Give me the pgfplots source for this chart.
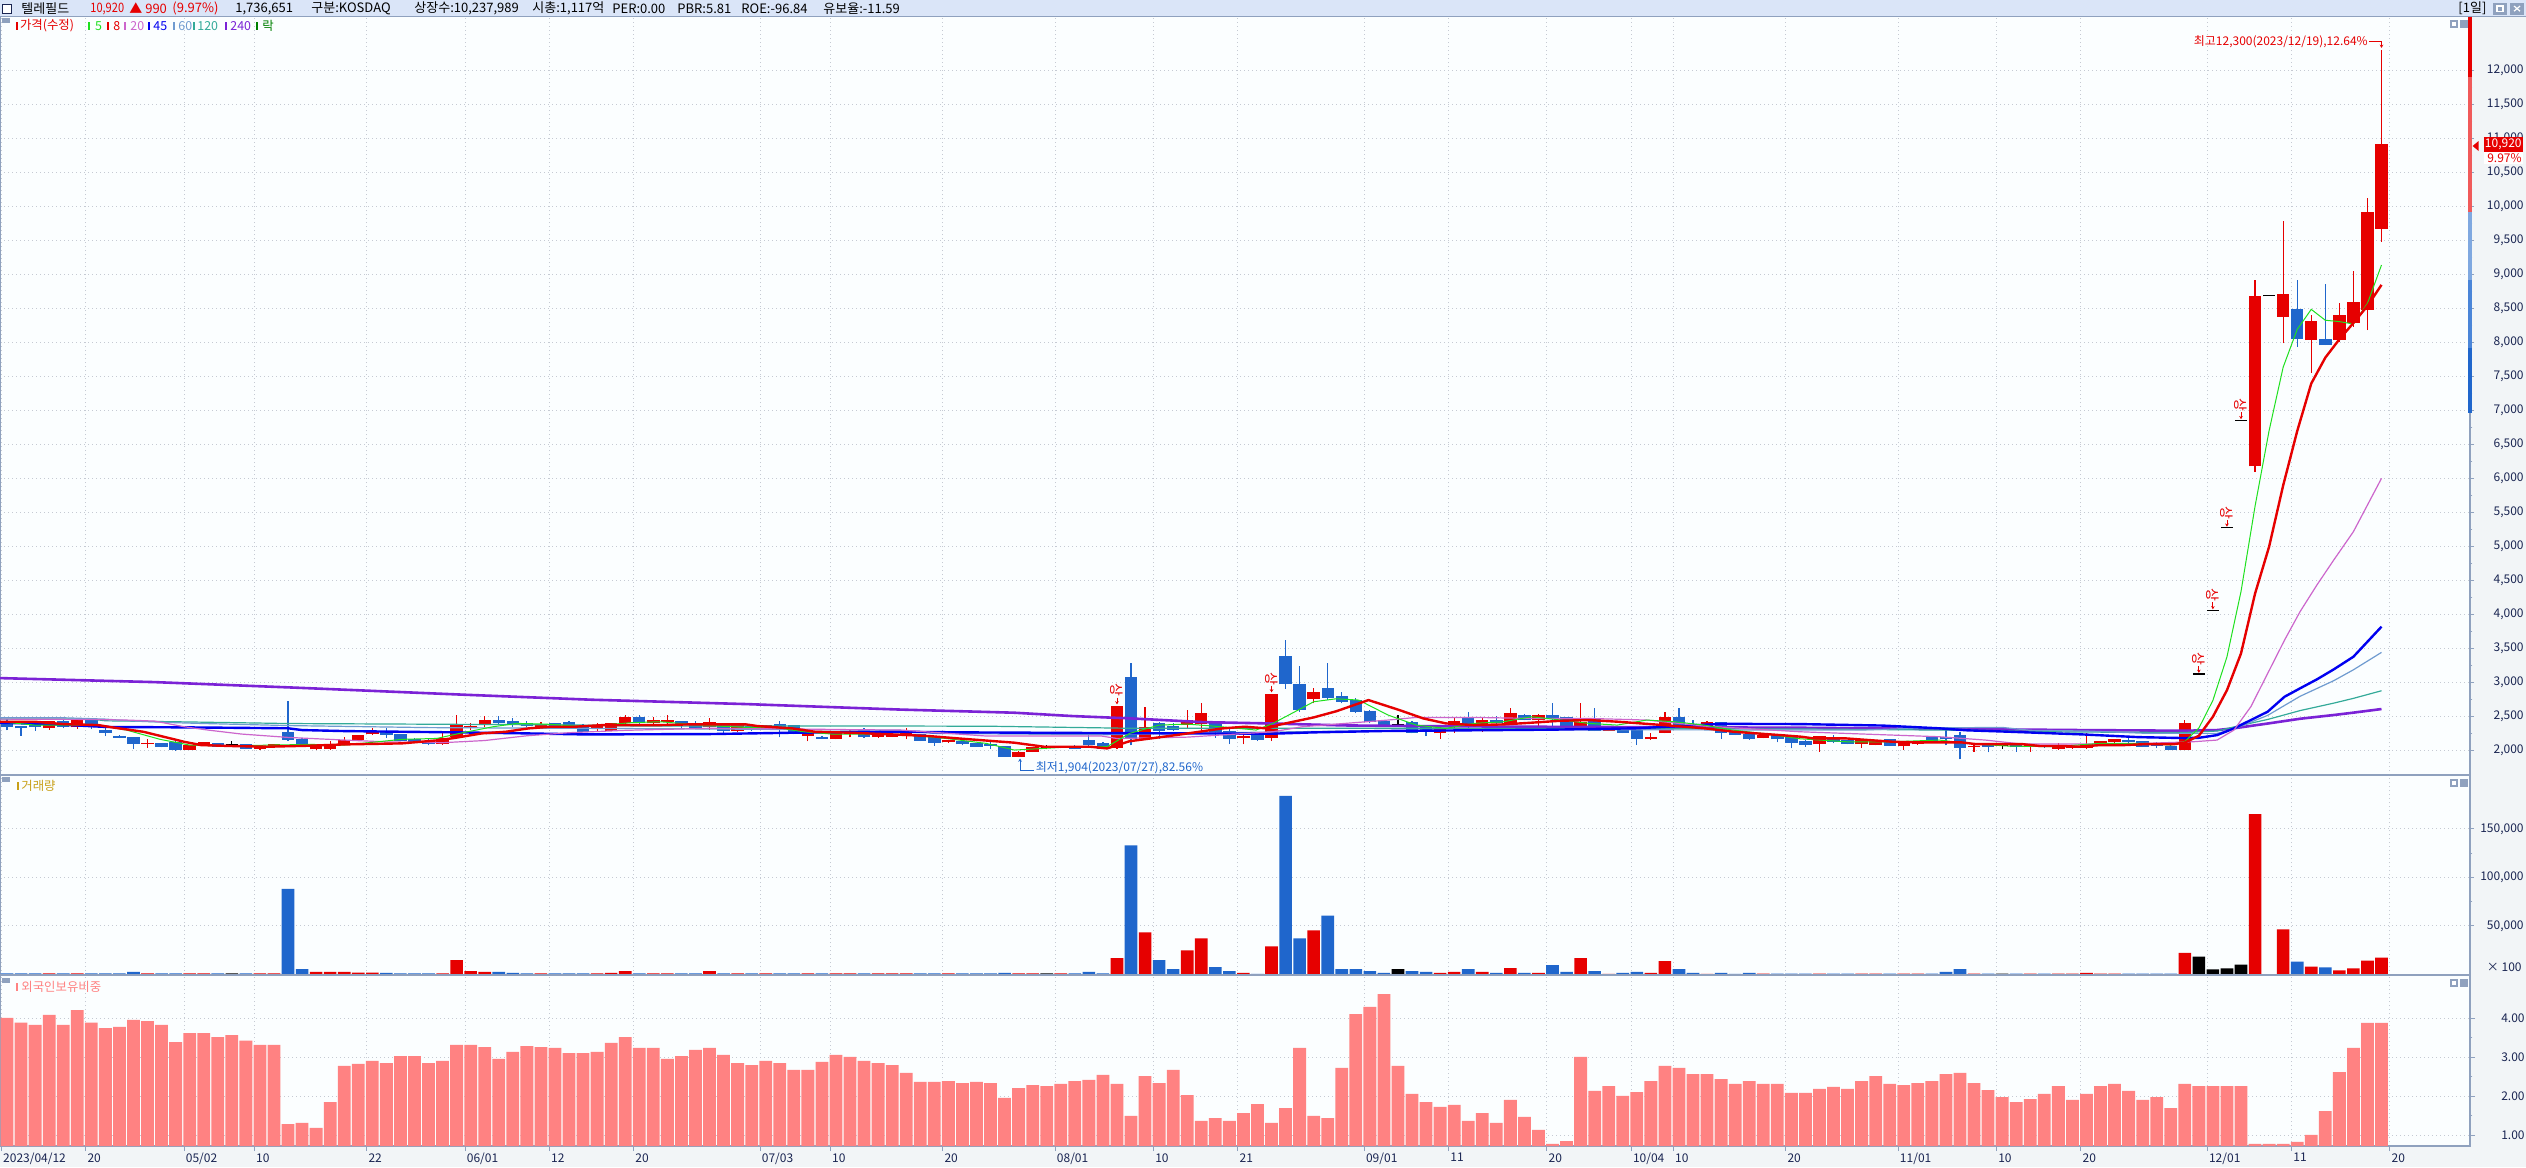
\documentclass[border=0pt]{standalone}
\usepackage{fontspec}
\setmainfont{Noto Sans CJK KR}
\usepackage{pgfplots}
\usepackage{pgfplotstable}
\pgfplotsset{compat=1.18}
\usetikzlibrary{arrows.meta}

\definecolor{upred}{HTML}{E60000}
\definecolor{dnblue}{HTML}{1F66CC}
\definecolor{ma5}{HTML}{1EE01E}
\definecolor{ma8}{HTML}{E60000}
\definecolor{ma20}{HTML}{CC66CC}
\definecolor{ma45}{HTML}{0000F0}
\definecolor{ma60}{HTML}{6F9BD0}
\definecolor{ma120}{HTML}{33AA99}
\definecolor{ma240}{HTML}{7B22D6}
\definecolor{fbar}{HTML}{FF8282}
\definecolor{gridc}{HTML}{C5CAD3}
\definecolor{sepc}{HTML}{8FA1BE}
\definecolor{hdrbg}{HTML}{DAE5F8}
\definecolor{stripbg}{HTML}{F2F5F7}
\definecolor{plotbg}{HTML}{FBFEFF}
\definecolor{navy}{HTML}{1A2552}
\definecolor{volt}{HTML}{C8A018}
\definecolor{lockg}{HTML}{008000}

% i o h l c k(1 up / -1 down / 0 flat) volume(x100) foreign%
\pgfplotstableread{
i o h l c k v f
0 2426 2460 2300 2343 -1 900 4.01
1 2363 2370 2220 2330 -1 900 3.89
2 2412 2420 2294 2343 -1 900 3.83
3 2328 2440 2310 2436 1 900 4.09
4 2436 2445 2330 2343 -1 900 3.83
5 2343 2460 2320 2451 1 900 4.21
6 2451 2460 2320 2343 -1 900 3.89
7 2304 2363 2216 2265 -1 900 3.75
8 2216 2225 2180 2191 -1 900 3.78
9 2196 2200 2024 2103 -1 2400 3.96
10 2100 2166 2044 2105 1 900 3.93
11 2113 2120 2050 2059 -1 900 3.83
12 2123 2157 2000 2015 -1 900 3.39
13 2015 2085 2010 2078 1 900 3.62
14 2074 2130 2070 2123 1 900 3.62
15 2113 2118 2055 2059 -1 900 3.52
16 2074 2142 2059 2074 0 900 3.57
17 2093 2098 2025 2029 -1 900 3.43
18 2025 2068 2010 2064 1 900 3.32
19 2049 2103 2045 2098 1 900 3.32
20 2274 2730 2147 2162 -1 88000 1.29
21 2172 2180 2070 2074 -1 5400 1.32
22 2020 2088 2010 2083 1 2400 1.19
23 2025 2142 2010 2093 1 2400 1.85
24 2093 2196 2090 2157 1 2400 2.78
25 2152 2235 2148 2230 1 1700 2.83
26 2250 2329 2230 2289 1 1700 2.91
27 2284 2333 2191 2235 -1 1400 2.85
28 2245 2250 2140 2147 -1 900 3.03
29 2176 2180 2108 2113 -1 900 3.03
30 2127 2176 2078 2103 -1 900 2.85
31 2103 2275 2088 2181 1 900 2.91
32 2196 2529 2186 2392 1 14600 3.32
33 2348 2412 2304 2353 1 3400 3.32
34 2382 2510 2353 2451 1 2400 3.26
35 2451 2510 2378 2412 -1 2400 2.96
36 2436 2475 2353 2378 -1 1400 3.14
37 2402 2441 2343 2363 -1 900 3.29
38 2328 2422 2323 2392 1 900 3.26
39 2407 2412 2363 2368 -1 900 3.24
40 2421 2441 2333 2363 -1 900 3.11
41 2382 2390 2270 2274 -1 900 3.11
42 2319 2412 2284 2372 1 900 3.14
43 2289 2415 2285 2412 1 1400 3.37
44 2412 2524 2363 2495 1 3400 3.52
45 2495 2524 2363 2407 -1 900 3.24
46 2402 2490 2398 2451 1 900 3.24
47 2426 2520 2373 2431 1 900 2.96
48 2436 2440 2333 2378 -1 900 3.03
49 2412 2441 2314 2323 -1 900 3.19
50 2343 2475 2304 2426 1 3400 3.24
51 2377 2412 2255 2294 -1 900 3.06
52 2289 2412 2275 2392 1 900 2.85
53 2368 2372 2284 2319 -1 900 2.80
54 2328 2382 2323 2377 1 900 2.91
55 2392 2431 2196 2343 -1 900 2.85
56 2372 2380 2240 2245 -1 900 2.68
57 2216 2265 2137 2260 1 900 2.68
58 2206 2210 2170 2176 -1 900 2.88
59 2172 2260 2168 2255 1 900 3.06
60 2245 2323 2196 2294 1 900 3.01
61 2304 2333 2186 2196 -1 900 2.91
62 2196 2250 2190 2245 1 900 2.85
63 2206 2250 2200 2245 1 900 2.80
64 2216 2328 2167 2274 1 900 2.60
65 2240 2245 2140 2147 -1 900 2.37
66 2196 2216 2074 2118 -1 900 2.37
67 2123 2165 2118 2162 1 900 2.39
68 2137 2157 2078 2093 -1 900 2.34
69 2118 2120 2055 2059 -1 900 2.37
70 2076 2123 2029 2073 -1 900 2.34
71 2074 2076 1910 1915 -1 1400 1.96
72 1910 1995 1904 1980 1 900 2.21
73 1985 2059 1980 2054 1 900 2.29
74 2039 2078 2020 2039 0 900 2.26
75 2039 2074 2035 2069 1 900 2.32
76 2069 2088 2025 2029 -1 900 2.39
77 2157 2255 2059 2078 -1 2400 2.42
78 2113 2132 2020 2029 -1 900 2.55
79 2044 2660 2025 2657 1 16700 2.32
80 3083 3294 2078 2176 -1 133000 1.50
81 2176 2647 2157 2348 1 43200 2.52
82 2402 2426 2176 2289 -1 14600 2.34
83 2368 2402 2289 2304 -1 5400 2.68
84 2372 2598 2328 2451 1 24800 2.03
85 2387 2696 2260 2554 1 37100 1.37
86 2402 2426 2191 2279 -1 7500 1.44
87 2289 2328 2098 2176 -1 3400 1.37
88 2191 2240 2093 2206 1 1400 1.57
89 2230 2255 2142 2157 -1 400 1.80
90 2191 2840 2142 2833 1 28900 1.32
91 3397 3627 2911 2975 -1 184000 1.70
92 2985 3245 2574 2598 -1 37100 3.24
93 2755 2916 2696 2862 1 45200 1.50
94 2921 3294 2745 2779 -1 60500 1.44
95 2804 2867 2696 2720 -1 5400 2.73
96 2745 2770 2549 2573 -1 5400 4.11
97 2583 2598 2402 2426 -1 3400 4.29
98 2441 2451 2363 2377 -1 1400 4.62
99 2377 2524 2353 2377 0 5400 2.78
100 2421 2441 2255 2265 -1 3400 2.06
101 2343 2363 2216 2279 -1 2400 1.85
102 2255 2378 2176 2338 1 1400 1.73
103 2353 2475 2265 2441 1 2400 1.78
104 2495 2568 2314 2368 -1 5400 1.37
105 2353 2475 2279 2451 1 2400 1.57
106 2451 2510 2387 2402 -1 1400 1.32
107 2412 2632 2402 2559 1 6500 1.91
108 2529 2535 2445 2451 -1 1400 1.47
109 2451 2534 2328 2529 1 1400 1.14
110 2524 2696 2328 2466 -1 9500 0.78
111 2490 2495 2338 2343 -1 2400 0.85
112 2333 2696 2304 2421 1 16700 3.01
113 2475 2622 2289 2289 -1 3400 2.14
114 2294 2352 2290 2348 1 400 2.26
115 2338 2345 2260 2265 -1 1400 2.01
116 2299 2304 2083 2172 -1 2400 2.11
117 2167 2255 2162 2206 1 1400 2.39
118 2265 2573 2255 2500 1 13600 2.78
119 2500 2627 2343 2372 -1 5400 2.73
120 2397 2451 2323 2328 -1 1400 2.57
121 2363 2430 2358 2426 1 400 2.57
122 2421 2425 2172 2265 -1 1400 2.44
123 2294 2298 2230 2235 -1 500 2.32
124 2245 2250 2160 2167 -1 1400 2.39
125 2186 2235 2180 2230 1 800 2.32
126 2230 2235 2123 2167 -1 800 2.32
127 2196 2200 2034 2118 -1 800 2.09
128 2142 2157 2059 2083 -1 800 2.09
129 2093 2220 1985 2216 1 800 2.19
130 2167 2230 2108 2132 -1 800 2.24
131 2157 2162 2093 2098 -1 800 2.19
132 2098 2157 2044 2152 1 800 2.39
133 2083 2147 2078 2142 1 800 2.52
134 2172 2176 2069 2074 -1 800 2.32
135 2074 2137 2010 2132 1 800 2.29
136 2093 2147 2088 2142 1 800 2.34
137 2211 2216 2113 2118 -1 800 2.39
138 2206 2353 2078 2176 -1 2400 2.57
139 2235 2270 1873 2044 -1 5400 2.60
140 2054 2108 1985 2059 1 800 2.34
141 2093 2096 1975 2059 -1 800 2.16
142 2074 2078 2025 2074 0 800 1.98
143 2093 2096 1985 2049 -1 800 1.85
144 2049 2088 1985 2083 1 800 1.93
145 2074 2078 2044 2049 -1 800 2.06
146 2025 2108 2015 2074 1 800 2.26
147 2034 2073 2030 2069 1 800 1.91
148 2034 2255 2025 2098 1 1400 2.06
149 2074 2147 2070 2142 1 800 2.26
150 2123 2172 2118 2167 1 800 2.32
151 2157 2206 2108 2123 -1 800 2.14
152 2142 2147 2054 2059 -1 800 1.91
153 2108 2132 2034 2074 -1 800 1.98
154 2074 2078 2005 2010 -1 800 1.70
155 2010 2451 2005 2402 1 22150 2.32
156 3120 3120 3120 3120 0 18120 2.26
157 4055 4055 4055 4055 0 5030 2.26
158 5270 5270 5270 5270 0 6040 2.26
159 6850 6850 6850 6850 0 10070 2.26
160 6180 8920 6100 8680 1 165100 0.78
161 8680 8680 8680 8680 0 0 0.78
162 8382 9789 7990 8716 1 46300 0.78
163 8495 8922 7941 8054 -1 13090 0.83
164 8039 8407 7559 8319 1 8050 1.01
165 8054 8863 7966 7966 -1 7050 1.62
166 8039 8579 8015 8407 1 4030 2.62
167 8294 9059 8235 8598 1 6040 3.24
168 8480 10123 8186 9922 1 14100 3.88
169 9672 12300 9485 10920 1 17120 3.88
}\data

\pgfplotsset{
  panel/.style={
    scale only axis, width=1235pt,
    xmin=-0.5, xmax=175.3,
    axis background/.style={fill=plotbg},
    axis line style={sepc, line width=0.8pt},
    xtick={-0.4,5.6,12.6,17.6,25.6,32.6,38.6,44.6,53.6,58.6,66.6,74.6,81.6,87.6,96.6,102.6,109.6,115.6,118.6,126.6,134.6,141.6,147.6,156.6,162.6,169.6},
    xticklabels={},
    xmajorgrids, ymajorgrids,
    grid style={gridc, line width=0.5pt, dash pattern=on 0.5pt off 1.5pt},
    ytick pos=right, yticklabel pos=right,
    tick align=outside, major tick length=2pt, minor tick length=1.2pt,
    xtick style={draw=none}, ytick style={sepc, line width=0.5pt},
    minor y tick num=1,
    scaled y ticks=false,
    /pgf/number format/assume math mode=true,
    yticklabel style={font=\fontsize{6}{7}\selectfont, text=navy, anchor=east, xshift=25pt, inner sep=0pt,
      /pgf/number format/fixed},
  },
  candle/.style 2 args={draw=none, mark=none, error bars/y dir=plus, error bars/y explicit,
    error bars/error mark=none, error bars/error bar style={line width=#2, draw=#1, solid}},
}
% bars of zero length (other colour) draw nothing
\newcommand{\wickplot}[2]{%
  \addplot[candle={#1}{0.6pt}] table[x=i, y=l,
    y error plus expr={(\thisrow{k}==#2) ? (\thisrow{h}-\thisrow{l}) : 0}] {\data};}
\newcommand{\bodyplot}[2]{%
  \addplot[candle={#1}{6.2pt}] table[x=i, y expr={min(\thisrow{o},\thisrow{c})},
    y error plus expr={(\thisrow{k}==#2) ? max(abs(\thisrow{c}-\thisrow{o}),20) : 0}] {\data};}
\newcommand{\volplot}[2]{%
  \addplot[ybar, bar width=6.3pt, bar shift=0pt, fill=#1, draw=none] table[x=i,
    y expr={(\thisrow{k}==#2) ? \thisrow{v} : 0}] {\data};}

\begin{document}
\begin{tikzpicture}
\path[use as bounding box] (0,0) rectangle (1263pt,-583.5pt);
\fill[white] (0,0) rectangle (1263pt,-583.5pt);
\fill[stripbg] (1235pt,-8.3pt) rectangle (1263pt,-583.5pt);
\fill[stripbg] (0,-573pt) rectangle (1263pt,-583.5pt);
% header
\fill[hdrbg] (0,0) rectangle (1263pt,-8.3pt);
\draw[sepc, line width=0.8pt] (0,-8.3pt) -- (1263pt,-8.3pt);
\draw[navy, fill=white, line width=0.5pt] (1.2pt,-2pt) rectangle (5.5pt,-6.6pt);
\begin{scope}[every node/.style={anchor=west, inner sep=0pt, font=\fontsize{6.5}{7.5}\selectfont}]
\node[text=black] at (10.5pt,-4.3pt) {텔레필드};
\node[text=upred] at (45pt,-4.3pt) {\scalebox{0.85}[1]{10,920}};
\node[text=upred] at (64.5pt,-4.3pt) {▲ 990};
\node[text=upred] at (86pt,-4.3pt) {(9.97\%)};
\node[text=black] at (117.5pt,-4.3pt) {1,736,651};
\node[text=black] at (155.5pt,-4.3pt) {구분:KOSDAQ};
\node[text=black] at (207pt,-4.3pt) {상장수:10,237,989};
\node[text=black] at (266pt,-4.3pt) {시총:1,117억};
\node[text=black] at (306pt,-4.3pt) {PER:0.00};
\node[text=black] at (338.5pt,-4.3pt) {PBR:5.81};
\node[text=black] at (370.5pt,-4.3pt) {ROE:-96.84};
\node[text=black] at (411.5pt,-4.3pt) {유보율:-11.59};
\node[text=black] at (1229pt,-4.3pt) {[1일]};
\end{scope}
\fill[sepc] (1246.5pt,-1.3pt) rectangle (1253.5pt,-7.3pt);
\fill[sepc] (1255pt,-1.3pt) rectangle (1262pt,-7.3pt);
\draw[white, line width=0.6pt] (1248.5pt,-3pt) rectangle (1251.5pt,-5.6pt);
\draw[white, line width=0.6pt] (1257pt,-3pt) -- (1260pt,-5.6pt) (1257pt,-5.6pt) -- (1260pt,-3pt);

% ---------- price panel ----------
\begin{axis}[panel, name=price, at={(0pt,-8.3pt)}, anchor=north west,
  height=379.2pt, ymin=1643, ymax=12795,
  ytick={2000,2500,...,12000}, clip=false,
  yticklabel style={/pgf/number format/1000 sep={,}}]
% candles: wicks then bodies
\wickplot{upred}{1}
\wickplot{dnblue}{-1}
\wickplot{black}{0}
\bodyplot{upred}{1}
\bodyplot{dnblue}{-1}
\bodyplot{black}{0}
% moving averages
\addplot[ma240, line width=1.3pt] coordinates {(-0.5,3068) (10.5,3009) (20.7,2926) (32.6,2823) (41.6,2750) (52.6,2686) (63.6,2605) (71.7,2559) (75.8,2510) (80,2475) (85.1,2421) (89.7,2402) (95.2,2372) (100.2,2363) (108.2,2353) (127.6,2338) (147.4,2304) (155,2294) (157.3,2304) (158.5,2330) (160.9,2400) (163.2,2470) (165.6,2525) (167,2560) (169,2613)};
\addplot[ma120, line width=0.6pt] coordinates {(-0.5,2466) (6,2466) (7,2440) (12,2426) (17,2410) (20,2400) (40,2380) (45,2363) (63.6,2363) (70,2360) (80,2330) (100,2330) (127.6,2320) (140,2300) (147,2275) (155,2268) (157.3,2290) (158.5,2350) (160.9,2460) (163.2,2590) (165.6,2700) (167,2770) (169,2882)};
\addplot[ma60, line width=0.6pt] coordinates {(-0.5,2485) (4,2485) (7,2465) (9,2436) (12,2412) (14,2400) (20,2370) (30,2340) (40,2330) (50,2320) (63.6,2300) (66,2255) (78,2235) (82,2250) (90,2275) (100,2300) (110,2310) (127.6,2304) (132,2304) (136.5,2335) (142,2343) (144,2300) (148,2290) (152,2258) (155,2255) (157.3,2255) (158.5,2320) (160.9,2520) (163.2,2800) (165.6,3030) (167,3190) (169,3446)};
\addplot[ma45, line width=1.2pt] coordinates {(-0.5,2412) (3,2392) (7,2350) (13,2343) (20,2330) (21,2304) (24,2289) (32,2270) (37,2255) (41,2240) (50,2245) (56,2265) (63.6,2279) (68,2270) (80,2258) (90,2250) (93,2270) (98,2290) (104,2300) (110,2310) (116,2330) (122,2395) (127.6,2392) (133.5,2370) (137.5,2330) (139.5,2300) (142.4,2280) (147.7,2240) (151.7,2200) (155,2186) (156,2190) (157.3,2230) (158.5,2328) (159.7,2451) (160.9,2574) (162.1,2794) (163.2,2917) (164.4,3049) (165.6,3196) (167,3382) (169,3824)};
\addplot[ma20, line width=0.6pt] coordinates {(-0.5,2465) (6,2460) (8.5,2451) (10.5,2436) (12.6,2353) (14.3,2304) (16.7,2245) (20,2196) (24,2157) (27,2130) (31,2118) (34,2150) (37,2220) (40,2265) (44,2300) (50,2330) (56,2320) (60,2310) (63.6,2304) (69.7,2216) (77.9,2216) (79,2180) (84,2200) (90.1,2279) (92.2,2353) (98.3,2451) (100.3,2490) (104.4,2490) (108.5,2475) (112.6,2475) (116.7,2451) (120.8,2363) (127.6,2279) (134.2,2230) (137.5,2206) (140.8,2157) (143.4,2098) (150.7,2098) (155.6,2132) (157.3,2157) (158.5,2304) (159.7,2647) (160.9,3137) (162.1,3627) (163.2,4044) (164.4,4436) (165.6,4804) (167,5221) (169,6005)};
\addplot[ma5, line width=0.5pt] coordinates {(-0.5,2426) (2,2377) (6.5,2377) (8.5,2304) (10.9,2167) (13,2083) (15.8,2069) (18.7,2083) (21.6,2093) (24,2083) (28.1,2167) (30.6,2181) (32.2,2255) (34.6,2353) (36.3,2402) (38.3,2392) (40.4,2363) (42.4,2377) (44.4,2412) (46.5,2426) (48.5,2392) (50.6,2363) (52.6,2343) (54.7,2343) (56.7,2279) (58.7,2245) (60.8,2245) (63.6,2240) (66.8,2181) (69.7,2108) (71.7,2010) (73.8,2034) (75.8,2059) (78.3,2059) (79.9,2255) (82,2377) (84,2392) (86.4,2353) (88.9,2304) (90.1,2402) (93,2720) (94.6,2764) (96.2,2745) (98.3,2524) (100.3,2377) (102.4,2328) (104.4,2402) (106.5,2426) (108.5,2500) (110.6,2451) (112.6,2402) (114.6,2377) (116.7,2451) (118.7,2426) (120.8,2377) (122.8,2304) (124.9,2255) (127.6,2176) (130.9,2132) (134.2,2132) (137.5,2157) (140.1,2098) (142.4,2069) (145.7,2059) (149,2108) (152.3,2108) (154,2083) (155,2134) (156,2333) (157,2740) (158,3380) (159,4340) (160,5595) (161,6707) (162,7639) (163,8196) (164,8490) (165,8330) (166,8310) (167,8275) (168,8578) (169,9142)};
\addplot[ma8, line width=1.2pt] coordinates {(-0.5,2426) (2,2426) (4,2392) (6.5,2377) (7.5,2343) (9.7,2279) (12.6,2132) (13.8,2083) (16,2069) (18.5,2059) (21.6,2074) (24,2093) (28.1,2108) (30.6,2152) (31.8,2186) (33.8,2255) (35.5,2279) (37.1,2328) (38.7,2353) (40.4,2353) (42.4,2377) (46.5,2377) (48.5,2387) (52.6,2387) (53.4,2363) (55.9,2328) (57.5,2279) (60,2265) (63.6,2235) (65.6,2216) (67.7,2181) (71.7,2118) (73.8,2059) (77.1,2059) (78.3,2034) (79.9,2140) (83.2,2230) (86.5,2328) (88.1,2353) (89.7,2328) (90.5,2380) (93,2490) (94.6,2580) (96.9,2745) (99.1,2598) (100.8,2475) (102.4,2402) (104.4,2377) (106.5,2387) (108.5,2412) (110.6,2441) (112.6,2451) (114.7,2426) (118.8,2363) (120.9,2328) (122.9,2279) (126.2,2230) (127.7,2206) (128.6,2181) (130.9,2181) (132.5,2157) (134.2,2132) (135.8,2123) (139.1,2123) (140.1,2098) (143.4,2098) (144.7,2069) (146.4,2069) (147.4,2059) (149,2083) (150.7,2083) (152.3,2098) (154.3,2098) (155,2120) (156,2220) (157,2500) (158,2890) (159,3430) (160,4310) (161,5000) (162,5900) (163,6700) (164,7400) (165,7780) (166,8050) (167,8290) (168,8540) (169,8850)};
% price band on right axis
\addplot[upred, line width=1.6pt] coordinates {(175.3,12795) (175.3,11900)};
\addplot[color={rgb,255:red,240;green,90;blue,90}, line width=1.6pt] coordinates {(175.3,11900) (175.3,9917)};
\addplot[color={rgb,255:red,127;green,168;blue,224}, line width=1.6pt] coordinates {(175.3,9917) (175.3,8922)};
\addplot[color={rgb,255:red,74;green,133;blue,216}, line width=1.6pt] coordinates {(175.3,8922) (175.3,7927)};
\addplot[dnblue, line width=1.6pt] coordinates {(175.3,7927) (175.3,6965)};
% upper-limit markers
\foreach \xx/\yy in {79/2657, 90/2833, 156/3120, 157/4055, 158/5270, 159/6850} {
  \edef\temp{\noexpand\node[upred, rotate=-90, inner sep=0pt, font=\noexpand\fontsize{7}{7}\noexpand\selectfont] at (axis cs:\xx,\yy+230) {상};
    \noexpand\draw[upred, line width=0.45pt, -{Stealth[length=1.6pt,width=1.8pt]}] (axis cs:\xx,\yy+125) -- (axis cs:\xx,\yy+25);}
  \temp
}
% high / low annotations
\node[upred, anchor=east, inner sep=0pt, font=\fontsize{6}{7}\selectfont] at (axis cs:168.05,12427) {최고12,300(2023/12/19),12.64\%};
\draw[upred, line width=0.45pt, -{Stealth[length=1.6pt,width=1.8pt]}] (axis cs:168.1,12427) -- (axis cs:169,12427) -- (axis cs:169,12335);
\draw[dnblue, line width=0.45pt, -{Stealth[length=1.6pt,width=1.8pt]}] (axis cs:73.1,1717) -- (axis cs:72.1,1717) -- (axis cs:72.1,1885);
\node[dnblue, anchor=west, inner sep=0pt, font=\fontsize{6}{7}\selectfont] at (axis cs:73.2,1746) {최저1,904(2023/07/27),82.56\%};
\end{axis}

% ---------- volume panel ----------
\begin{axis}[panel, at={(0pt,-387.5pt)}, anchor=north west,
  height=100pt, ymin=-720, ymax=205460,
  ytick={50000,100000,150000},
  yticklabel style={/pgf/number format/1000 sep={,}}]
\volplot{upred}{1}
\volplot{dnblue}{-1}
\volplot{black}{0}
\end{axis}

% ---------- foreign ownership panel ----------
\begin{axis}[panel, at={(0pt,-487.5pt)}, anchor=north west,
  height=85.5pt, ymin=0.726, ymax=5.11,
  ytick={1,2,3,4},
  yticklabel style={/pgf/number format/.cd, fixed, fixed zerofill, precision=2},
  xtick style={draw=sepc, line width=0.5pt}, xtick pos=bottom,
  major tick length=2.5pt,
  xticklabels={2023/04/12,20,05/02,10,22,06/01,12,20,07/03,10,20,08/01,10,21,09/01,11,20,10/04,10,20,11/01,10,20,12/01,11,20},
  xticklabel style={anchor=north west, font=\fontsize{6}{7}\selectfont, text=navy, inner sep=0.4pt, xshift=0.3pt, yshift=-0.6pt}]
\addplot[ybar, bar width=6.4pt, bar shift=0pt, fill=fbar, draw=none] table[x=i, y=f] {\data};
\end{axis}

% ---------- panel legends ----------
\begin{scope}[every node/.style={anchor=west, inner sep=0pt, font=\fontsize{6.2}{7}\selectfont}]
\fill[sepc] (1pt,-9pt) rectangle (5pt,-11.5pt);
\fill[upred] (8pt,-11pt) rectangle (9pt,-15pt); \node[text=upred] at (9.8pt,-13pt) {가격(수정)};
\fill[ma5] (44pt,-11pt) rectangle (45pt,-15pt); \node[text=ma5] at (47.3pt,-13pt) {5};
\fill[ma8] (53.5pt,-11pt) rectangle (54.5pt,-15pt); \node[text=ma8] at (56.5pt,-13pt) {8};
\fill[ma20] (62pt,-11pt) rectangle (63pt,-15pt); \node[text=ma20] at (65pt,-13pt) {20};
\fill[ma45] (74pt,-11pt) rectangle (75pt,-15pt); \node[text=ma45] at (76.5pt,-13pt) {45};
\fill[ma60] (86.5pt,-11pt) rectangle (87.5pt,-15pt); \node[text=ma60] at (89pt,-13pt) {60};
\fill[ma120] (96.5pt,-11pt) rectangle (97.5pt,-15pt); \node[text=ma120] at (98.5pt,-13pt) {120};
\fill[ma240] (112.5pt,-11pt) rectangle (113.5pt,-15pt); \node[text=ma240] at (115pt,-13pt) {240};
\fill[lockg] (128pt,-11pt) rectangle (129pt,-15pt); \node[text=lockg] at (131pt,-13pt) {락};
\fill[sepc] (1pt,-388.5pt) rectangle (5pt,-391pt);
\fill[volt] (8.5pt,-391pt) rectangle (9.5pt,-395pt); \node[text=volt] at (10.5pt,-393pt) {거래량};
\fill[sepc] (1pt,-489pt) rectangle (5pt,-491.5pt);
\fill[fbar] (8pt,-491.5pt) rectangle (9pt,-495.5pt); \node[text=fbar] at (10.5pt,-493.5pt) {외국인보유비중};
\node[text=navy, anchor=east, font=\fontsize{6}{7}\selectfont] at (1261pt,-483.5pt) {× 100};
\end{scope}
% panel corner icons
\foreach \yy in {-10pt,-389.5pt,-489.5pt} {
  \fill[sepc] (1225pt,\yy) rectangle ++(4pt,-4pt);
  \fill[sepc] (1229.8pt,\yy) rectangle ++(4pt,-4pt);
  \fill[white] (1226pt,\yy-1pt) rectangle ++(2pt,-2pt);
}
% current price tag
\fill[upred] (1236.3pt,-73pt) -- (1239.3pt,-70.5pt) -- (1239.3pt,-75.5pt) -- cycle;
\fill[upred] (1242pt,-68.5pt) rectangle (1261.5pt,-75.8pt);
\node[text=white, anchor=east, inner sep=0pt, font=\fontsize{6}{7}\selectfont] at (1261pt,-72.1pt) {10,920};
\fill[white] (1242pt,-76pt) rectangle (1261.5pt,-82pt);
\node[text=upred, anchor=east, inner sep=0pt, font=\fontsize{6}{7}\selectfont] at (1261pt,-79pt) {9.97\%};
\end{tikzpicture}
\end{document}
